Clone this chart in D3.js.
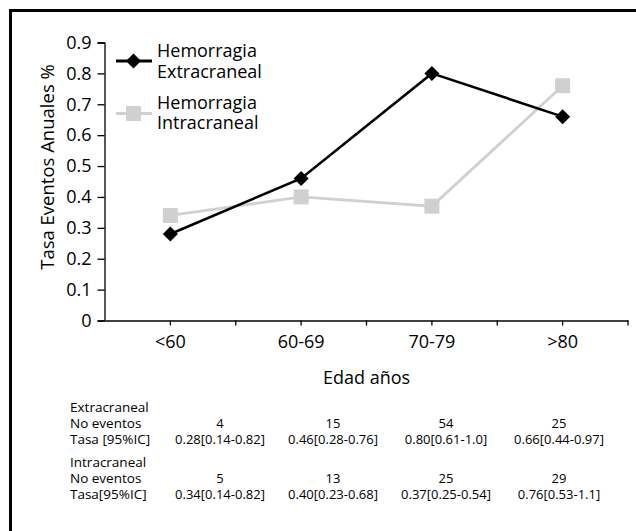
<!DOCTYPE html>
<html><head><meta charset="utf-8">
<script src="https://cdn.jsdelivr.net/npm/d3@7"></script>
<style>
html,body{margin:0;padding:0;background:#fff;}
svg{display:block;font-family:"Open Sans",sans-serif;}
</style></head>
<body>
<svg id="chart" width="636" height="531"></svg>
<script>
const categories = ["<60", "60-69", "70-79", ">80"];
const extraValues = [0.28, 0.46, 0.80, 0.66];
const intraValues = [0.34, 0.40, 0.37, 0.76];
const yTicks = [0, 0.1, 0.2, 0.3, 0.4, 0.5, 0.6, 0.7, 0.8, 0.9];
const seriesNames = [["Hemorragia", "Extracraneal"], ["Hemorragia", "Intracraneal"]];
const extraEventos = ["4", "15", "54", "25"];
const extraTasa = ["0.28[0.14-0.82]", "0.46[0.28-0.76]", "0.80[0.61-1.0]", "0.66[0.44-0.97]"];
const intraEventos = ["5", "13", "25", "29"];
const intraTasa = ["0.34[0.14-0.82]", "0.40[0.23-0.68]", "0.37[0.25-0.54]", "0.76[0.53-1.1]"];
const tableLabels = ["Extracraneal", "No eventos", "Tasa [95%IC]", "Intracraneal", "No eventos", "Tasa[95%IC]"];

const svg = d3.select("#chart");
const BLACK = "#000", GRAY = "#d0d0d0";

// frame (left and top only)
svg.append("path").attr("d", "M10.5,531V10.5H636").attr("fill", "none").attr("stroke", "#000").attr("stroke-width", 3);

const x = d3.scaleBand().domain(categories).range([105, 628]).padding(0);
const y = d3.scaleLinear().domain([0, 0.9]).range([320.5, 42.5]);
const cx = d => x(d) + x.bandwidth() / 2;

// Y axis
const yAxis = svg.append("g").attr("transform", "translate(104.5,0)")
  .call(d3.axisLeft(y).tickValues(yTicks).tickFormat(d => d === 0 ? "0" : d3.format(".1f")(d)).tickSize(7).tickPadding(6));
yAxis.select(".domain").attr("stroke", "#000").attr("stroke-width", 1.3);
yAxis.selectAll(".tick line").attr("stroke", "#000").attr("stroke-width", 1.3);
yAxis.selectAll("text").attr("font-family", "Open Sans").attr("font-size", 18).attr("fill", "#000");

// X axis
const xAxis = svg.append("g").attr("transform", "translate(0,320.5)")
  .call(d3.axisBottom(x).tickSize(5).tickSizeOuter(0).tickPadding(10));
xAxis.select(".domain").attr("stroke", "#000").attr("stroke-width", 1.3);
xAxis.selectAll(".tick line").attr("stroke", "#000").attr("stroke-width", 1.3);
xAxis.selectAll("text").attr("font-family", "Open Sans").attr("font-size", 18).attr("fill", "#000");
// boundary ticks between categories and at the right end
const bounds = categories.map(c => x(c)).concat([x.range()[1]]).slice(1);
xAxis.selectAll(".btick").data(bounds).join("line").attr("class", "btick")
  .attr("x1", d => d).attr("x2", d => d).attr("y1", 0).attr("y2", 5)
  .attr("stroke", "#000").attr("stroke-width", 1.3);

// axis titles
svg.append("text").attr("x", 366.5).attr("y", 384).attr("text-anchor", "middle")
  .attr("font-size", 18).attr("fill", "#000").text("Edad años");
svg.append("text").attr("transform", "translate(54,167) rotate(-90)").attr("text-anchor", "middle")
  .attr("font-size", 18.5).attr("fill", "#000").text("Tasa Eventos Anuales %");

// lines
const line = d3.line().x((d, i) => cx(categories[i])).y(d => y(d));
svg.append("path").datum(intraValues).attr("d", line).attr("fill", "none").attr("stroke", GRAY).attr("stroke-width", 2.8);
svg.selectAll(".sq").data(intraValues).join("rect").attr("class", "sq")
  .attr("x", (d, i) => cx(categories[i]) - 7.5).attr("y", d => y(d) - 7.5)
  .attr("width", 15).attr("height", 15).attr("fill", GRAY);

svg.append("path").datum(extraValues).attr("d", line).attr("fill", "none").attr("stroke", BLACK).attr("stroke-width", 2.6);
const diamond = (px, py, r) => `M${px},${py - r}L${px + r},${py}L${px},${py + r}L${px - r},${py}Z`;
svg.selectAll(".dm").data(extraValues).join("path").attr("class", "dm")
  .attr("d", (d, i) => diamond(cx(categories[i]), y(d), 7.5)).attr("fill", BLACK);

// legend
const leg = [
  {name: seriesNames[0], color: BLACK, sym: "d", ly: 61, ty: 57},
  {name: seriesNames[1], color: GRAY, sym: "s", ly: 113.5, ty: 108.5}
];
leg.forEach(l => {
  svg.append("line").attr("x1", 116).attr("x2", 152).attr("y1", l.ly).attr("y2", l.ly)
    .attr("stroke", l.color).attr("stroke-width", 2.8);
  if (l.sym === "d") svg.append("path").attr("d", diamond(133.5, l.ly, 7.5)).attr("fill", l.color);
  else svg.append("rect").attr("x", 126).attr("y", l.ly - 7.5).attr("width", 15).attr("height", 15).attr("fill", l.color);
  const t = svg.append("text").attr("x", 157).attr("y", l.ty).attr("font-size", 18).attr("fill", "#000");
  t.append("tspan").attr("x", 157).text(l.name[0]);
  t.append("tspan").attr("x", 157).attr("dy", 20.5).text(l.name[1]);
});

// table
const tx = d3.scalePoint().domain(categories).range([220, 559]);
const rowY = [412, 428, 444, 467, 483, 499];
const rowData = [null, extraEventos, extraTasa, null, intraEventos, intraTasa];
tableLabels.forEach((lab, r) => {
  svg.append("text").attr("x", 70).attr("y", rowY[r]).attr("font-size", 13.5).attr("fill", "#000").text(lab);
  if (rowData[r]) {
    svg.selectAll(".row" + r).data(rowData[r]).join("text").attr("class", "row" + r)
      .attr("x", (d, i) => tx(categories[i])).attr("y", rowY[r]).attr("text-anchor", "middle")
      .attr("font-size", 13).attr("fill", "#000").text(d => d);
  }
});
</script>
</body></html>
